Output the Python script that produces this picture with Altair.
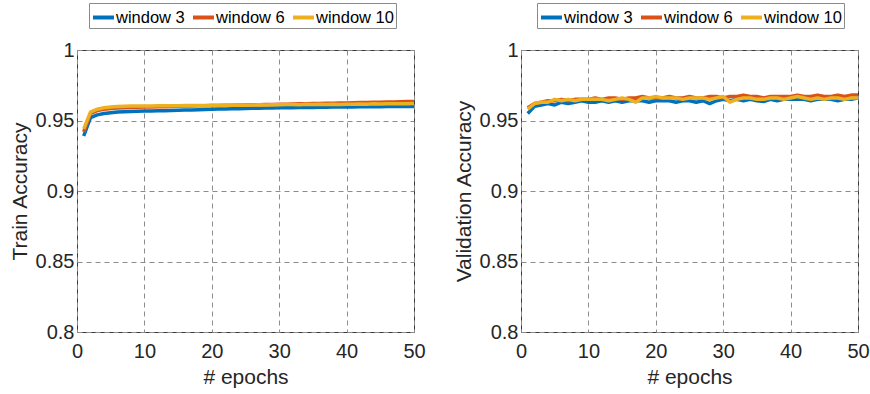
import altair as alt
import pandas as pd

epochs = list(range(1, 51))
series_names = ["window 3", "window 6", "window 10"]
colors = ["#0072BD", "#D95319", "#EDB120"]

train_w3 = [0.939, 0.952, 0.954, 0.955, 0.9555, 0.956, 0.9562, 0.9564, 0.9566, 0.9567,
            0.9568, 0.9569, 0.957, 0.9571, 0.9572, 0.9574, 0.9575, 0.9577, 0.9578, 0.958,
            0.9581, 0.9582, 0.9583, 0.9584, 0.9585, 0.9586, 0.9587, 0.9588, 0.9589, 0.959,
            0.959, 0.9591, 0.9592, 0.9592, 0.9593, 0.9594, 0.9594, 0.9595, 0.9595, 0.9596,
            0.9596, 0.9597, 0.9597, 0.9598, 0.9598, 0.9599, 0.9599, 0.96, 0.96, 0.96]
train_w6 = [0.942, 0.955, 0.957, 0.958, 0.9585, 0.9588, 0.959, 0.9592, 0.9594, 0.9595,
            0.9596, 0.9597, 0.9598, 0.96, 0.9601, 0.9602, 0.9603, 0.9604, 0.9605, 0.9606,
            0.9607, 0.9608, 0.9609, 0.961, 0.961, 0.9611, 0.9612, 0.9613, 0.9614, 0.9615,
            0.9616, 0.9617, 0.9618, 0.9619, 0.962, 0.9621, 0.9622, 0.9623, 0.9624, 0.9625,
            0.9626, 0.9627, 0.9628, 0.9629, 0.963, 0.9631, 0.9632, 0.9633, 0.9634, 0.9635]
train_w10 = [0.944, 0.956, 0.958, 0.959, 0.9595, 0.96, 0.9601, 0.9602, 0.9602, 0.9603,
             0.9603, 0.9604, 0.9604, 0.9605, 0.9605, 0.9606, 0.9606, 0.9607, 0.9607, 0.9608,
             0.9608, 0.9609, 0.9609, 0.961, 0.9608, 0.961, 0.9611, 0.961, 0.9612, 0.9611,
             0.9613, 0.9614, 0.9612, 0.9615, 0.9613, 0.9615, 0.9614, 0.9616, 0.9614, 0.9616,
             0.9615, 0.9617, 0.9616, 0.9618, 0.9617, 0.9618, 0.9619, 0.9618, 0.9619, 0.962]

val_w3 = [0.955, 0.960, 0.961, 0.962, 0.961, 0.963, 0.962, 0.963, 0.964, 0.963,
          0.963, 0.964, 0.963, 0.964, 0.963, 0.964, 0.964, 0.964, 0.963, 0.964,
          0.964, 0.964, 0.963, 0.964, 0.964, 0.963, 0.964, 0.962, 0.964, 0.965,
          0.964, 0.965, 0.964, 0.965, 0.964, 0.9635, 0.965, 0.964, 0.965, 0.965,
          0.965, 0.965, 0.964, 0.965, 0.965, 0.965, 0.964, 0.965, 0.965, 0.966]
val_w6 = [0.959, 0.962, 0.963, 0.964, 0.964, 0.965, 0.964, 0.965, 0.965, 0.965,
          0.966, 0.965, 0.966, 0.966, 0.965, 0.966, 0.966, 0.967, 0.966, 0.966,
          0.966, 0.967, 0.966, 0.966, 0.967, 0.966, 0.966, 0.967, 0.967, 0.966,
          0.967, 0.967, 0.968, 0.967, 0.967, 0.966, 0.967, 0.967, 0.967, 0.967,
          0.968, 0.967, 0.967, 0.968, 0.967, 0.967, 0.968, 0.967, 0.968, 0.968]
val_w10 = [0.958, 0.962, 0.963, 0.963, 0.965, 0.964, 0.965, 0.964, 0.965, 0.965,
           0.965, 0.965, 0.964, 0.965, 0.966, 0.965, 0.963, 0.966, 0.966, 0.967,
           0.966, 0.966, 0.966, 0.965, 0.966, 0.966, 0.966, 0.965, 0.966, 0.967,
           0.963, 0.965, 0.966, 0.966, 0.965, 0.965, 0.966, 0.966, 0.965, 0.966,
           0.967, 0.966, 0.965, 0.966, 0.965, 0.966, 0.966, 0.965, 0.966, 0.966]

x_ticks = [0, 10, 20, 30, 40, 50]
y_ticks = [0.8, 0.85, 0.9, 0.95, 1.0]

FONT = "Liberation Sans"
TXT = "#262626"


def make_df(series):
    rows = []
    for order, (name, vals) in enumerate(zip(series_names, series)):
        for e, v in zip(epochs, vals):
            rows.append({"epoch": e, "acc": v, "window": name, "order": order})
    return pd.DataFrame(rows)


def panel(df, ytitle, legend_x):
    return alt.Chart(df).mark_line(strokeWidth=3.5, strokeJoin="round").encode(
        x=alt.X("epoch:Q", scale=alt.Scale(domain=[0, 50], nice=False),
                axis=alt.Axis(values=x_ticks, title="# epochs", format="d",
                              labelFlush=False)),
        y=alt.Y("acc:Q", scale=alt.Scale(domain=[0.8, 1.0], nice=False, zero=False),
                axis=alt.Axis(values=y_ticks, title=ytitle, format="~g")),
        color=alt.Color("window:N",
                        scale=alt.Scale(domain=series_names, range=colors),
                        legend=alt.Legend(orient="none", direction="horizontal",
                                          legendX=legend_x, legendY=-47, title=None,
                                          symbolType="stroke", symbolSize=441,
                                          symbolStrokeWidth=4, labelFontSize=16.5,
                                          labelFont=FONT, labelColor="#000",
                                          labelOffset=0, columnPadding=0,
                                          fillColor="white", strokeColor="#8a8a8a",
                                          padding=2)),
        order=alt.Order("order:Q"),
        detail="window:N",
    ).properties(width=337, height=282)


left = panel(make_df([train_w3, train_w6, train_w10]), "Train Accuracy", 12)
right = panel(make_df([val_w3, val_w6, val_w10]), "Validation Accuracy", 16)

chart = alt.hconcat(left, right, spacing=26).resolve_scale(color="independent").configure(
    font=FONT,
    padding={"left": 8, "top": 2, "right": 0, "bottom": 0},
).configure_view(
    stroke="#3a3a3a", strokeWidth=1,
).configure_axis(
    labelFont=FONT, titleFont=FONT, labelFontSize=20, titleFontSize=21,
    titleFontWeight="normal", labelColor=TXT, titleColor=TXT,
    domain=False, ticks=False, grid=True, gridColor="#8c8c8c",
    gridDash=[5, 4], gridWidth=1,
).configure_axisX(labelPadding=9, titlePadding=5).configure_axisY(labelPadding=3, titlePadding=5)

chart.save("out.html", embed_options={"renderer": "svg", "actions": False})
